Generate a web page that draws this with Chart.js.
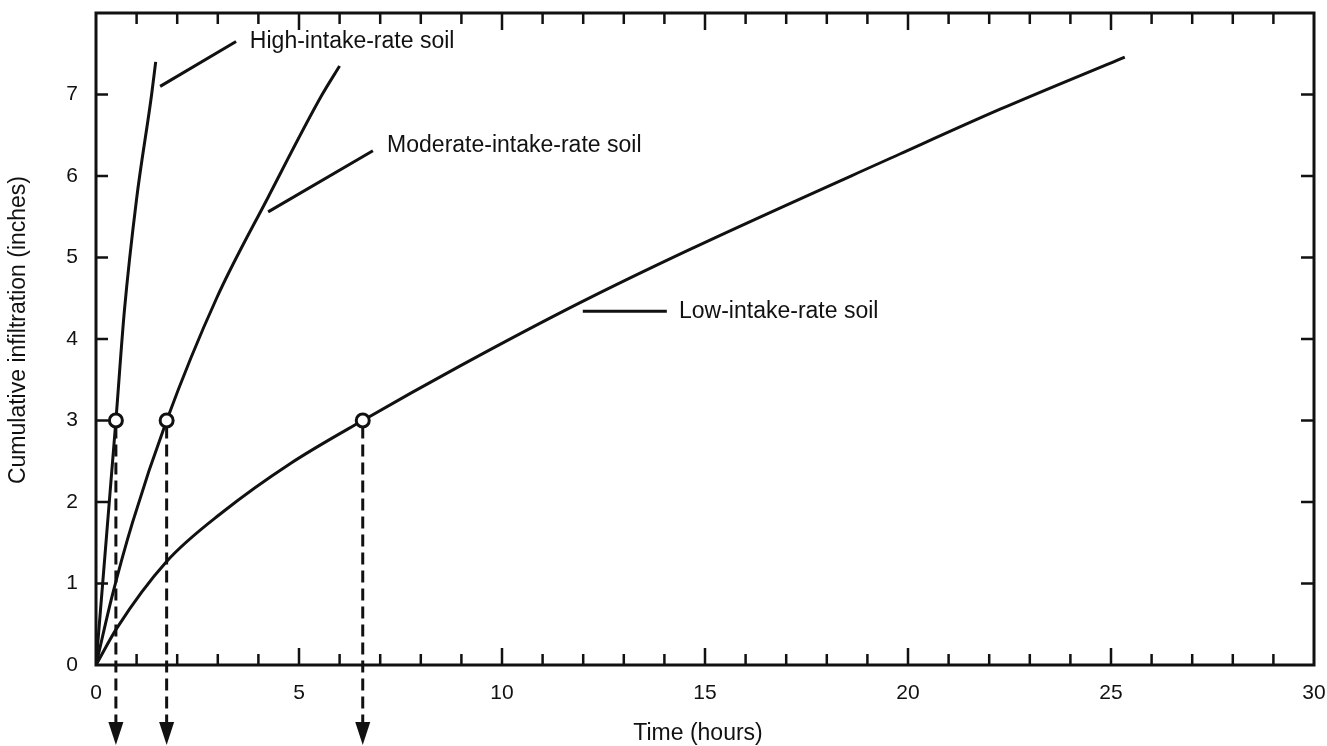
<!DOCTYPE html>
<html lang="en">
<head>
    <meta charset="UTF-8">
    <title>Cumulative infiltration</title>
    <script src="https://cdn.jsdelivr.net/npm/chart.js"></script>
    <style>
        body {
            margin: 0;
            background: #fff;
        }
        .wrap {
            width: 1327px;
            height: 746px;
        }
    </style>
</head>
<body>
    <div class="wrap"><canvas id="grafico"></canvas></div>

    <script>
        // valores (horas, polegadas)
        const highX = [0, 0.49, 0.7, 1.0, 1.37, 1.47];
        const highY = [0, 3.0, 4.35, 5.72, 7.0, 7.4];
        const modX = [0, 0.4, 0.9, 1.74, 2.97, 4.24, 5.56, 6.0];
        const modY = [0, 0.85, 1.75, 3.0, 4.5, 5.74, 6.99, 7.35];
        const lowX = [0, 0.51, 1.74, 3.13, 4.78, 6.57, 8.97, 11.9, 14.63, 19.8, 22.27, 25.34];
        const lowY = [0, 0.45, 1.27, 1.88, 2.47, 3.0, 3.67, 4.44, 5.1, 6.27, 6.82, 7.46];
        const markerX = [0.49, 1.74, 6.57];
        const markerY = [3, 3, 3];
        const xTicks = [0, 5, 10, 15, 20, 25, 30];
        const yTicks = [0, 1, 2, 3, 4, 5, 6, 7];
        const labels = [
            { text: 'High-intake-rate soil', x0: 1.58, y0: 7.10, x1: 3.45, y1: 7.65, tx: 3.79, ty: 7.65 },
            { text: 'Moderate-intake-rate soil', x0: 4.24, y0: 5.56, x1: 6.82, y1: 6.31, tx: 7.17, ty: 6.37 },
            { text: 'Low-intake-rate soil', x0: 11.99, y0: 4.34, x1: 14.06, y1: 4.34, tx: 14.36, ty: 4.34 }
        ];

        const FONT = '"Liberation Sans", Arial, sans-serif';
        const INK = '#111';

        function pares(xs, ys) {
            return xs.map((x, i) => ({ x: x, y: ys[i] }));
        }

        function curva(xs, ys) {
            return {
                data: pares(xs, ys),
                borderColor: INK,
                borderWidth: 3,
                pointRadius: 0,
                showLine: true,
                cubicInterpolationMode: 'monotone',
                order: 2
            };
        }

        const datasets = [curva(highX, highY), curva(modX, modY), curva(lowX, lowY)];

        // linhas de chamada dos rótulos
        labels.forEach(l => {
            datasets.push({
                data: [{ x: l.x0, y: l.y0 }, { x: l.x1, y: l.y1 }],
                borderColor: INK,
                borderWidth: 3,
                pointRadius: 0,
                showLine: true,
                order: 2
            });
        });

        datasets.push({
            data: pares(markerX, markerY),
            showLine: false,
            pointRadius: 6.5,
            pointBackgroundColor: '#fff',
            pointBorderColor: INK,
            pointBorderWidth: 3,
            order: 0
        });

        const moldura = {
            id: 'moldura',
            beforeDatasetsDraw(chart) {
                const ctx = chart.ctx;
                const a = chart.chartArea;
                const xs = chart.scales.x;
                const ys = chart.scales.y;
                ctx.save();
                ctx.strokeStyle = INK;
                ctx.lineWidth = 3;
                ctx.strokeRect(a.left, a.top, a.right - a.left, a.bottom - a.top);

                ctx.lineWidth = 2.5;
                ctx.beginPath();
                for (let h = 1; h < 30; h++) {
                    const px = xs.getPixelForValue(h);
                    const len = h % 5 === 0 ? 17 : 11;
                    ctx.moveTo(px, a.bottom);
                    ctx.lineTo(px, a.bottom - len);
                    ctx.moveTo(px, a.top);
                    ctx.lineTo(px, a.top + len);
                }
                for (let v = 1; v < 8; v++) {
                    const py = ys.getPixelForValue(v);
                    ctx.moveTo(a.left, py);
                    ctx.lineTo(a.left + 12, py);
                    ctx.moveTo(a.right, py);
                    ctx.lineTo(a.right - 13, py);
                }
                ctx.stroke();

                // setas tracejadas
                const h = chart.height;
                markerX.forEach((mx, i) => {
                    const px = xs.getPixelForValue(mx);
                    const py = ys.getPixelForValue(markerY[i]);
                    ctx.setLineDash([12, 6]);
                    ctx.lineWidth = 3;
                    ctx.beginPath();
                    ctx.moveTo(px, py + 6);
                    ctx.lineTo(px, h - 22);
                    ctx.stroke();
                    ctx.setLineDash([]);
                    ctx.beginPath();
                    ctx.moveTo(px - 7.5, h - 24);
                    ctx.lineTo(px + 7.5, h - 24);
                    ctx.lineTo(px, h - 1);
                    ctx.closePath();
                    ctx.fillStyle = INK;
                    ctx.fill();
                });
                ctx.restore();
            },
            afterDraw(chart) {
                const ctx = chart.ctx;
                const xs = chart.scales.x;
                const ys = chart.scales.y;
                ctx.save();
                ctx.fillStyle = INK;
                ctx.font = '23px ' + FONT;
                ctx.textBaseline = 'middle';
                ctx.textAlign = 'left';
                labels.forEach(l => {
                    ctx.fillText(l.text, xs.getPixelForValue(l.tx), ys.getPixelForValue(l.ty));
                });

                ctx.textAlign = 'center';
                ctx.fillText('Time (hours)', 698, chart.height - 12);

                ctx.translate(19, 330);
                ctx.rotate(-Math.PI / 2);
                ctx.fillText('Cumulative infiltration (inches)', 0, 0);
                ctx.restore();
            }
        };

        new Chart(document.getElementById('grafico'), {
            type: 'scatter',
            data: { datasets: datasets },
            options: {
                responsive: true,
                maintainAspectRatio: false,
                animation: false,
                layout: { padding: { left: 0, right: 13, top: 13, bottom: 41 } },
                plugins: {
                    legend: { display: false },
                    tooltip: { enabled: false }
                },
                scales: {
                    x: {
                        type: 'linear',
                        min: 0,
                        max: 30,
                        afterBuildTicks: s => { s.ticks = xTicks.map(v => ({ value: v })); },
                        afterFit: s => {
                            s.height = 40;
                            s.paddingLeft = 0;
                            s.paddingRight = 0;
                        },
                        grid: { display: false, drawTicks: false },
                        border: { display: false },
                        ticks: { color: INK, padding: 16, maxRotation: 0, font: { family: FONT, size: 21 } }
                    },
                    y: {
                        type: 'linear',
                        min: 0,
                        max: 8,
                        afterBuildTicks: s => { s.ticks = yTicks.map(v => ({ value: v })); },
                        afterFit: s => {
                            s.width = 96;
                            s.paddingTop = 0;
                            s.paddingBottom = 0;
                        },
                        grid: { display: false, drawTicks: false },
                        border: { display: false },
                        ticks: { color: INK, padding: 18, font: { family: FONT, size: 21 } }
                    }
                }
            },
            plugins: [moldura]
        });
    </script>
</body>
</html>
